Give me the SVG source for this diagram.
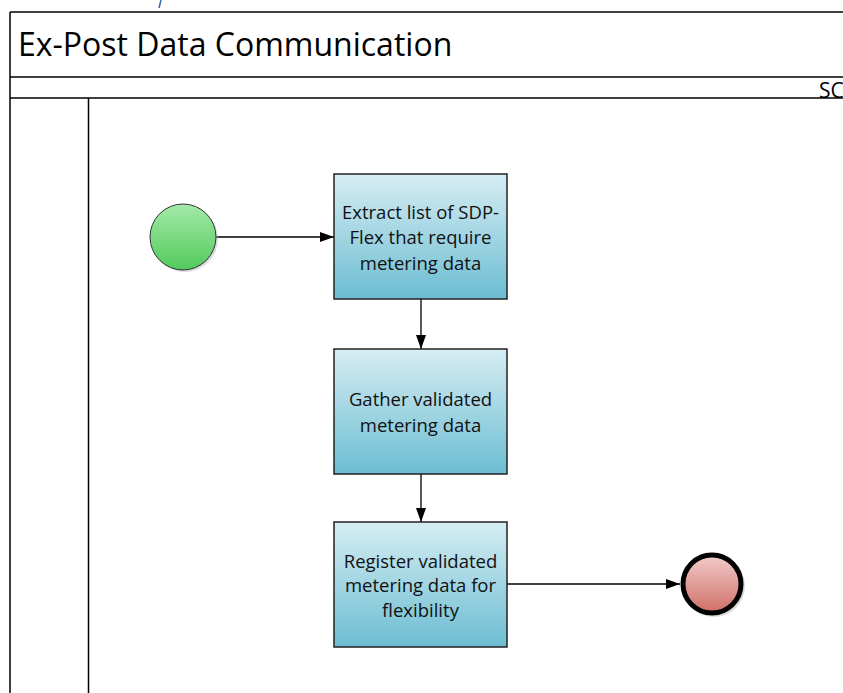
<svg xmlns="http://www.w3.org/2000/svg" width="843" height="693" viewBox="0 0 843 693">
<defs>
<linearGradient id="gTask" x1="0" y1="0" x2="0" y2="1">
<stop offset="0" stop-color="#d6edf3"/>
<stop offset="1" stop-color="#6cbdd2"/>
</linearGradient>
<linearGradient id="gStart" x1="0" y1="0" x2="0" y2="1">
<stop offset="0" stop-color="#a3eaa8"/>
<stop offset="1" stop-color="#52ca5c"/>
</linearGradient>
<linearGradient id="gEnd" x1="0" y1="0" x2="0" y2="1">
<stop offset="0" stop-color="#f2cccc"/>
<stop offset="1" stop-color="#cf6e66"/>
</linearGradient>
<marker id="arr" markerWidth="14" markerHeight="10" refX="14" refY="5" orient="auto" markerUnits="userSpaceOnUse">
<path d="M0,0 L14,5 L0,10 Z" fill="#000"/>
</marker>
</defs>
<style>
.frame{fill:none;stroke:#000;stroke-width:1.5}
.task{fill:url(#gTask);stroke:#222;stroke-width:1.5}
.lbl{font-family:"Open Sans","Liberation Sans",Arial,sans-serif;font-size:18.5px;fill:#111;text-anchor:middle}
.conn{stroke:#000;stroke-width:1.3;fill:none;marker-end:url(#arr)}
</style>
<rect width="843" height="693" fill="#fff"/>
<line x1="161" y1="0" x2="159" y2="8" stroke="#3a67b0" stroke-width="1.5"/>
<g id="pool">
<line class="frame" x1="10" y1="12" x2="843" y2="12"/>
<line class="frame" x1="10" y1="12" x2="10" y2="693"/>
<line class="frame" x1="10" y1="77" x2="843" y2="77"/>
<line class="frame" x1="10" y1="98" x2="843" y2="98"/>
<line class="frame" x1="88.5" y1="98" x2="88.5" y2="693"/>
<text x="18" y="56" font-family="Open Sans,Liberation Sans,Arial,sans-serif" font-size="32" fill="#000">Ex-Post Data Communication</text>
<text x="819" y="98" font-family="Open Sans,Liberation Sans,Arial,sans-serif" font-size="21" fill="#000">SC</text>
</g>
<g id="connectors">
<line class="conn" x1="216" y1="237" x2="334" y2="237"/>
<line class="conn" x1="421" y1="299" x2="421" y2="349"/>
<line class="conn" x1="421" y1="474" x2="421" y2="522"/>
<line class="conn" x1="507" y1="584" x2="680" y2="584"/>
</g>
<g id="start">
<circle cx="185" cy="239" r="33" fill="#bbb" opacity="0.5"/>
<circle cx="183" cy="237" r="33" fill="url(#gStart)" stroke="#333" stroke-width="1"/>
</g>
<g id="task1">
<rect class="task" x="334" y="174" width="173" height="125"/>
<text class="lbl" x="420.5" y="219">Extract list of SDP-</text>
<text class="lbl" x="420.5" y="244">Flex that require</text>
<text class="lbl" x="420.5" y="270">metering data</text>
</g>
<g id="task2">
<rect class="task" x="334" y="349" width="173" height="125"/>
<text class="lbl" x="420.5" y="406">Gather validated</text>
<text class="lbl" x="420.5" y="432">metering data</text>
</g>
<g id="task3">
<rect class="task" x="334" y="522" width="173" height="125"/>
<text class="lbl" x="420.5" y="568">Register validated</text>
<text class="lbl" x="420.5" y="592">metering data for</text>
<text class="lbl" x="420.5" y="617">flexibility</text>
</g>
<g id="end">
<circle cx="714" cy="586" r="31" fill="#bbb" opacity="0.5"/>
<circle cx="712" cy="584" r="29" fill="url(#gEnd)" stroke="#000" stroke-width="5"/>
</g>
</svg>
